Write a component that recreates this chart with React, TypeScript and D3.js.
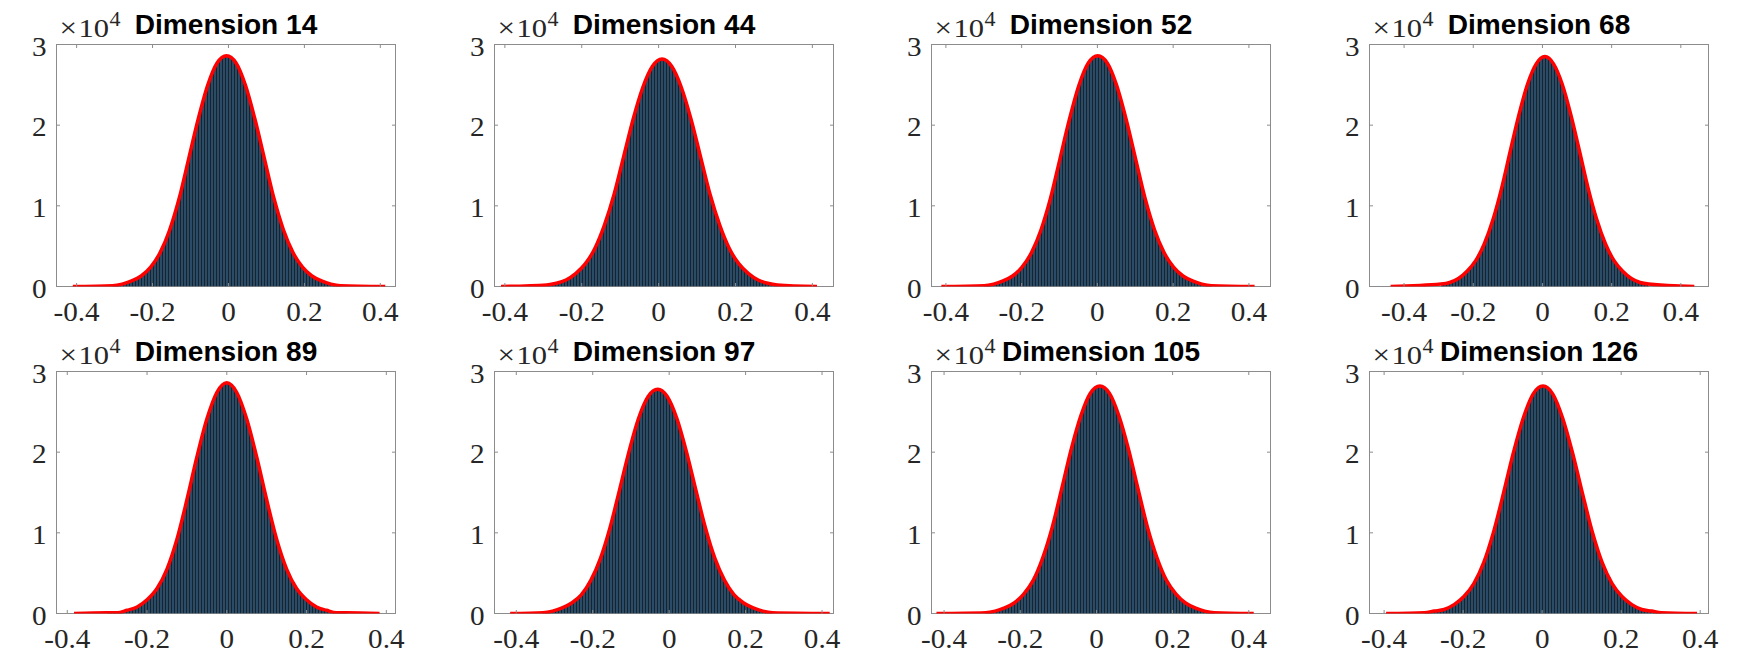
import React from 'react';
import * as d3 from 'd3';

// panel titles (row by row)
const DIMENSIONS = [14, 44, 52, 68, 89, 97, 105, 126];

// x-axis limits of each panel
const X_LIMITS: [number, number][] = [
  [-0.453, 0.44], [-0.427, 0.455], [-0.438, 0.457], [-0.5, 0.48],
  [-0.427, 0.423], [-0.457, 0.43], [-0.433, 0.457], [-0.437, 0.421],
];

// where the fitted curve starts and ends (data range)
const CURVE_RANGE: [number, number][] = [
  [-0.41, 0.413], [-0.41, 0.412], [-0.412, 0.415], [-0.439, 0.439],
  [-0.383, 0.383], [-0.416, 0.42], [-0.42, 0.413], [-0.395, 0.392],
];

// location of the peak of each distribution
const PEAK_AT = [-0.005, 0.009, 0.001, 0.007, 0.0, -0.03, 0.009, 0.002];

// offsets from the peak where the counts were read
const OFFSETS = [
  -0.3, -0.275, -0.25, -0.225, -0.2, -0.175, -0.15, -0.125, -0.1, -0.075, -0.05, -0.025, 0,
  0.025, 0.05, 0.075, 0.1, 0.125, 0.15, 0.175, 0.2, 0.225, 0.25, 0.275, 0.3,
];

// counts (x10^4) read at PEAK_AT + OFFSETS
const COUNTS_14 = [0.01, 0.03, 0.07, 0.13, 0.24, 0.42, 0.7, 1.09, 1.58, 2.07, 2.49, 2.77, 2.86, 2.77, 2.49, 2.07, 1.58, 1.09, 0.7, 0.42, 0.24, 0.13, 0.07, 0.03, 0.01];
const COUNTS_44 = [0.02, 0.04, 0.08, 0.16, 0.28, 0.47, 0.76, 1.14, 1.61, 2.08, 2.47, 2.73, 2.82, 2.73, 2.47, 2.08, 1.61, 1.14, 0.76, 0.47, 0.28, 0.16, 0.08, 0.04, 0.02];
const COUNTS_52 = [0.01, 0.03, 0.07, 0.13, 0.24, 0.42, 0.7, 1.09, 1.58, 2.07, 2.49, 2.77, 2.86, 2.77, 2.49, 2.07, 1.58, 1.09, 0.7, 0.42, 0.24, 0.13, 0.07, 0.03, 0.01];
const COUNTS_68 = [0.03, 0.05, 0.1, 0.19, 0.32, 0.53, 0.83, 1.22, 1.68, 2.13, 2.51, 2.76, 2.85, 2.76, 2.51, 2.13, 1.68, 1.22, 0.83, 0.53, 0.32, 0.19, 0.1, 0.05, 0.03];
const COUNTS_89 = [0.01, 0.01, 0.04, 0.08, 0.17, 0.31, 0.55, 0.92, 1.41, 1.94, 2.41, 2.74, 2.86, 2.74, 2.41, 1.94, 1.41, 0.92, 0.55, 0.31, 0.17, 0.08, 0.04, 0.01, 0.01];
const COUNTS_97 = [0.01, 0.03, 0.07, 0.13, 0.23, 0.41, 0.68, 1.06, 1.53, 2.01, 2.42, 2.69, 2.78, 2.69, 2.42, 2.01, 1.53, 1.06, 0.68, 0.41, 0.23, 0.13, 0.07, 0.03, 0.01];
const COUNTS_105 = [0.01, 0.03, 0.07, 0.13, 0.24, 0.41, 0.69, 1.07, 1.55, 2.04, 2.45, 2.73, 2.82, 2.73, 2.45, 2.04, 1.55, 1.07, 0.69, 0.41, 0.24, 0.13, 0.07, 0.03, 0.01];
const COUNTS_126 = [0.01, 0.03, 0.05, 0.11, 0.21, 0.37, 0.63, 1.01, 1.49, 1.99, 2.42, 2.72, 2.82, 2.72, 2.42, 1.99, 1.49, 1.01, 0.63, 0.37, 0.21, 0.11, 0.05, 0.03, 0.01];
const COUNTS = [COUNTS_14, COUNTS_44, COUNTS_52, COUNTS_68, COUNTS_89, COUNTS_97, COUNTS_105, COUNTS_126];

const X_TICKS = [-0.4, -0.2, 0, 0.2, 0.4];
const Y_TICKS = [0, 1, 2, 3];

// layout
const COL_LEFT = [56.5, 494.5, 931.5, 1369.5];
const ROW_TOP = [44.5, 371.5];
const BOX_W = 339;
const BOX_H = 242;
const TICK_LEN = 3.5;
const AXIS_COLOR = '#8c8c8c';
const LABEL_COLOR = '#262626';
const SERIF = '"Liberation Serif", "Times New Roman", serif';
const SANS = '"Liberation Sans", Arial, sans-serif';

// text stretched horizontally like the exported figure
function Label({ x, y, sx = 1, size, anchor = 'start', family = SERIF, weight = 'normal', fill = LABEL_COLOR, baseline = 'auto', children }: any) {
  return (
    <text
      transform={`translate(${x},${y}) scale(${sx},1)`}
      textAnchor={anchor}
      dominantBaseline={baseline}
      fontFamily={family}
      fontWeight={weight}
      fontSize={size}
      fill={fill}
    >
      {children}
    </text>
  );
}

function Panel({ idx }: { idx: number }) {
  const left = COL_LEFT[idx % 4];
  const top = ROW_TOP[Math.floor(idx / 4)];
  const x = d3.scaleLinear().domain(X_LIMITS[idx]).range([left, left + BOX_W]);
  const y = d3.scaleLinear().domain([0, 3]).range([top + BOX_H, top]);

  const [lo, hi] = CURVE_RANGE[idx];
  const pts: [number, number][] = [
    [lo, 0],
    ...OFFSETS.map((d, i) => [PEAK_AT[idx] + d, COUNTS[idx][i]] as [number, number]),
    [hi, 0],
  ];

  const line = d3.line<[number, number]>()
    .x(d => x(d[0]))
    .y(d => y(d[1]))
    .curve(d3.curveMonotoneX);
  const area = d3.area<[number, number]>()
    .x(d => x(d[0]))
    .y0(y(0))
    .y1(d => y(d[1]))
    .curve(d3.curveMonotoneX);

  const clipId = `clip-${idx}`;
  const bottom = top + BOX_H;

  return (
    <g>
      <defs>
        <clipPath id={clipId}>
          <rect x={left} y={top - 4} width={BOX_W} height={BOX_H + 4} />
        </clipPath>
      </defs>
      <rect x={left} y={top} width={BOX_W} height={BOX_H} fill="#fff" stroke={AXIS_COLOR} strokeWidth={1} />
      <g clipPath={`url(#${clipId})`}>
        <path d={area(pts.slice(1, -1)) || ''} fill="url(#bars)" />
        <path d={line(pts) || ''} fill="none" stroke="#ff0000" strokeWidth={3.5} strokeLinejoin="round" />
      </g>
      {X_TICKS.map(t => (
        <g key={`x${t}`}>
          <line x1={x(t)} x2={x(t)} y1={bottom} y2={bottom - TICK_LEN} stroke={AXIS_COLOR} />
          <line x1={x(t)} x2={x(t)} y1={top} y2={top + TICK_LEN} stroke={AXIS_COLOR} />
          <Label x={x(t)} y={bottom + 34} sx={1.08} size={27} anchor="middle">
            {t === 0 ? '0' : d3.format('.1f')(t).replace('\u2212', '-')}
          </Label>
        </g>
      ))}
      {Y_TICKS.map(t => (
        <g key={`y${t}`}>
          <line x1={left} x2={left + TICK_LEN} y1={y(t)} y2={y(t)} stroke={AXIS_COLOR} />
          <line x1={left + BOX_W} x2={left + BOX_W - TICK_LEN} y1={y(t)} y2={y(t)} stroke={AXIS_COLOR} />
          <Label x={left - 10} y={y(t) + 2} sx={1.08} size={27} anchor="end" baseline="central">
            {t}
          </Label>
        </g>
      ))}
      <Label x={left + 3} y={top - 8} sx={1.15} size={27}>{'\u00d7'}</Label>
      <Label x={left + 22} y={top - 8} sx={1.22} size={25}>10</Label>
      <Label x={left + 53} y={top - 19} sx={1.1} size={20}>4</Label>
      <Label x={left + BOX_W / 2} y={top - 10.7} sx={1.04} size={27} anchor="middle" family={SANS} weight="bold" fill="#000">
        {`Dimension ${DIMENSIONS[idx]}`}
      </Label>
    </g>
  );
}

export default function App() {
  return (
    <svg width={1750} height={655} style={{ position: 'absolute', left: 0, top: 0, background: '#fff' }}>
      <defs>
        <pattern id="bars" width={3} height={10} patternUnits="userSpaceOnUse">
          <rect width={3} height={10} fill="#2a4c66" />
          <rect width={1} height={10} fill="#17242f" />
        </pattern>
      </defs>
      <rect width={1750} height={655} fill="#fff" />
      {DIMENSIONS.map((_, i) => <Panel key={i} idx={i} />)}
    </svg>
  );
}
